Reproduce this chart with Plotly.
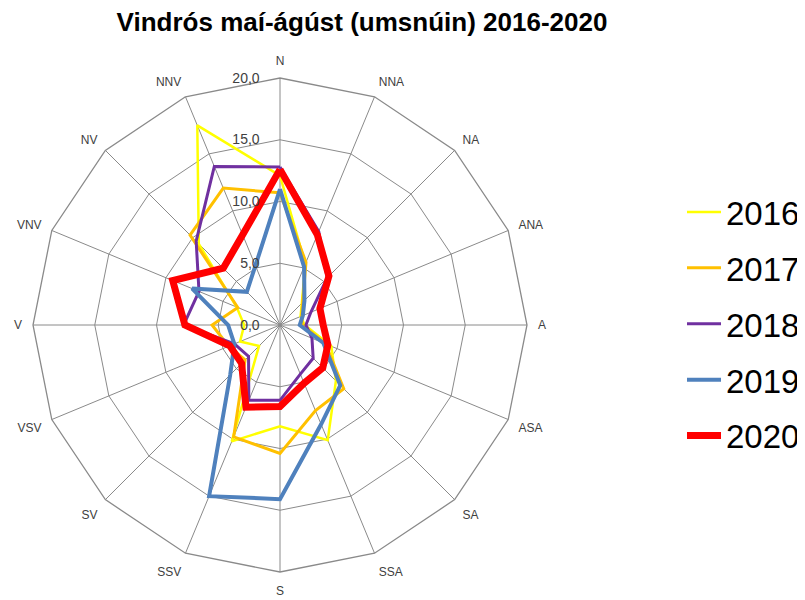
import plotly.graph_objects as go

directions = ["N", "NNA", "NA", "ANA", "A", "ASA", "SA", "SSA",
              "S", "SSV", "SV", "VSV", "V", "VNV", "NV", "NNV"]

years = ["2016", "2017", "2018", "2019", "2020"]
v2016 = [12.1, 5.35, 2.5, 1.8, 2.0, 4.5, 6.4, 10.1, 8.2, 10.2, 2.4, 3.5, 2.9, 3.8, 9.3, 17.5]
v2017 = [10.7, 5.5, 2.6, 1.9, 1.8, 4.0, 7.3, 7.5, 10.4, 9.8, 4.0, 4.5, 5.5, 3.7, 10.3, 12.0]
v2018 = [12.8, 8.2, 5.4, 2.7, 2.1, 2.8, 3.8, 4.3, 6.1, 6.6, 3.6, 4.0, 7.8, 7.1, 9.6, 13.9]
v2019 = [11.0, 5.1, 2.8, 2.0, 1.6, 3.8, 6.9, 8.7, 14.1, 15.0, 5.7, 4.0, 4.2, 7.7, 3.8, 5.2]
v2020 = [12.6, 7.9, 5.6, 3.5, 3.5, 4.2, 4.9, 5.1, 6.6, 7.2, 4.4, 4.4, 7.7, 9.4, 6.5, 7.9]

radial_ticks = [0, 5, 10, 15, 20]

series = [v2016, v2017, v2018, v2019, v2020]
colors = ["#FFFF00", "#FFC000", "#7030A0", "#4F81BD", "#FF0000"]
widths = [2.5, 3, 3, 4, 7]

fig = go.Figure()
for name, vals, col, w in zip(years, series, colors, widths):
    fig.add_trace(go.Scatterpolar(
        r=vals + vals[:1],
        theta=directions + directions[:1],
        mode="lines",
        name=name,
        line=dict(color=col, width=w),
        legendgroup=name,
    ))

grid = "#8A8A8A"
W, H = 805, 600
OFF = 8  # page offset of the plot div
cx, cy, R = 280 - OFF, 325 - OFF, 247

fig.update_layout(
    width=W, height=H,
    paper_bgcolor="white",
    margin=dict(l=0, r=0, t=0, b=0),
    separators=",.",
    font=dict(family="Liberation Sans, Arial, sans-serif", color="#000000"),
    title=dict(text="<b>Vindrós maí-ágúst (umsnúin) 2016-2020</b>",
               x=(362 - OFF) / W, xanchor="center",
               y=1 - (22 - OFF) / H, yanchor="middle",
               font=dict(size=26, color="#000000")),
    polar=dict(
        domain=dict(x=[(cx - R) / W, (cx + R) / W],
                    y=[1 - (cy + R) / H, 1 - (cy - R) / H]),
        bgcolor="white",
        gridshape="linear",
        radialaxis=dict(
            range=[0, 20], tickvals=radial_ticks, tickformat=".1f",
            angle=90, tickangle=90, side="counterclockwise",
            showline=False, ticks="outside", ticklen=15,
            tickcolor="rgba(0,0,0,0)",
            gridcolor=grid, gridwidth=1.3,
            tickfont=dict(size=14, color="#404040"),
        ),
        angularaxis=dict(
            categoryarray=directions, type="category",
            direction="clockwise", rotation=90,
            showline=True, linecolor=grid, linewidth=1.3,
            gridcolor=grid, gridwidth=1.3,
            ticks="outside", ticklen=8, tickcolor="rgba(0,0,0,0)",
            tickfont=dict(size=12, color="#404040"),
        ),
    ),
    legend=dict(
        x=(688 - 6 - OFF) / W, y=1 - (184 - OFF) / H,
        xanchor="left", yanchor="top",
        font=dict(size=33, color="#000000"),
        tracegroupgap=10, itemwidth=34,
        bgcolor="rgba(0,0,0,0)",
    ),
    showlegend=True,
)

fig.write_html("out.html")
